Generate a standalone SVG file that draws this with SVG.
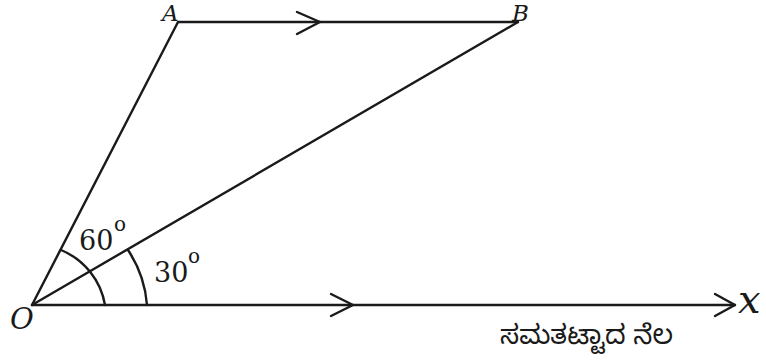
<svg xmlns="http://www.w3.org/2000/svg" width="766" height="364" viewBox="0 0 766 364">
<style>
.ln{stroke:#1a1a1a;stroke-width:2.4;fill:none;stroke-linecap:round;stroke-linejoin:round}
.lb{font-family:"DejaVu Serif","Liberation Serif",serif;fill:#1a1a1a}
.it{font-style:italic}
.kn{font-family:"Noto Sans Kannada","Noto Sans","Noto Serif Kannada",sans-serif;fill:#1a1a1a;font-size:27px}
</style>
<rect width="766" height="364" fill="#fff"/>
<g id="connectors">
<path class="ln" d="M32 305 L735 305"/>
<path class="ln" d="M715 294 L735 305 L715 316"/>
<path class="ln" d="M331 294 L353 305 L331 316"/>
<path class="ln" d="M178 22 L518 22"/>
<path class="ln" d="M297 12 L320 22 L297 34"/>
<path class="ln" d="M32 305 L178 22"/>
<path class="ln" d="M32 305 L518 22"/>
<path class="ln" d="M105 305 A73 73 0 0 0 61 250"/>
<path class="ln" d="M147 305 A115 115 0 0 0 128 250"/>
</g>
<g id="O"><text class="lb it" x="10" y="329" font-size="29">O</text></g>
<g id="A"><text class="lb it" x="162" y="21" font-size="23">A</text></g>
<g id="B"><text class="lb it" x="512" y="21" font-size="23">B</text></g>
<g id="x"><text class="lb it" x="738" y="313" font-size="40">x</text></g>
<g id="angle60"><text class="lb" x="79" y="250" font-size="27">60</text><text class="lb" x="114" y="231" font-size="20">o</text></g>
<g id="angle30"><text class="lb" x="154" y="282" font-size="27">30</text><text class="lb" x="188" y="263" font-size="20">o</text></g>
<g id="ground"><text class="kn" x="500" y="344">ಸಮತಟ್ಟಾದ ನೆಲ</text></g>
</svg>
